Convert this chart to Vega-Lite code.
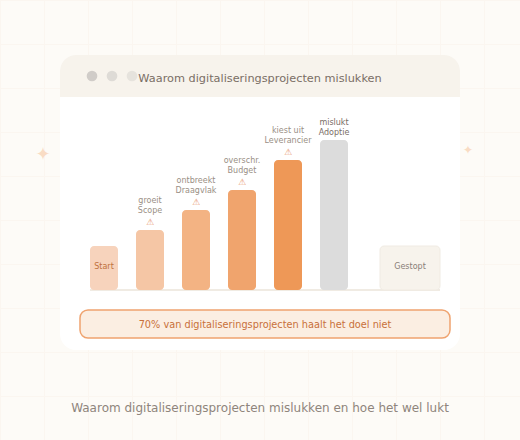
{"$schema":"https://vega.github.io/schema/vega-lite/v6.json","autosize":{"type":"fit","contains":"padding"},"width":520,"height":440,"padding":0,"background":"#fdfbf7","config":{"view":{"stroke":null},"text":{"font":"DejaVu Sans"}},
"resolve":{"scale":{"color":"independent"}},
"datasets":{"bars":[{"stap":"Start","slot":104,"value":44},{"stap":"Scope","probleem":"groeit","slot":150,"value":60},{"stap":"Draagvlak","probleem":"ontbreekt","slot":196,"value":80},{"stap":"Budget","probleem":"overschr.","slot":242,"value":100},{"stap":"Leverancier","probleem":"kiest uit","slot":288,"value":130},{"stap":"Adoptie","probleem":"mislukt","slot":334,"value":150}]},
"layer":[
{"data":{"values":[{"g":0.5},{"g":44.5},{"g":88.5},{"g":132.5},{"g":176.5},{"g":220.5},{"g":264.5},{"g":308.5},{"g":352.5},{"g":396.5},{"g":440.5},{"g":484.5}]},"mark":{"type":"rule","stroke":"#fbf6f0","strokeWidth":1,"clip":true},"encoding":{"x":{"field":"g","type":"quantitative","axis":null,"scale":{"domain":[0,520],"range":[0,520],"nice":false,"zero":false,"padding":0}}}},
{"data":{"values":[{"g":289.5},{"g":245.5},{"g":201.5},{"g":157.5},{"g":113.5},{"g":69.5},{"g":25.5},{"g":-18.5},{"g":-62.5},{"g":-106.5}]},"mark":{"type":"rule","stroke":"#fbf6f0","strokeWidth":1,"clip":true},"encoding":{"y":{"field":"g","type":"quantitative","axis":null,"scale":{"domain":[-150,290],"range":[440,0],"nice":false,"zero":false}}}},
{"data":{"values":[{"deel":"venster"}]},"mark":{"type":"rect","fill":"#ffffff","cornerRadius":16},"encoding":{"x":{"datum":60,"type":"quantitative","axis":null,"scale":{"domain":[0,520],"range":[0,520],"nice":false,"zero":false,"padding":0}},"x2":{"datum":460},"y":{"datum":235,"type":"quantitative","axis":null,"scale":{"domain":[-150,290],"range":[440,0],"nice":false,"zero":false}},"y2":{"datum":-60}}},
{"data":{"values":[{"deel":"kop"}]},"mark":{"type":"rect","fill":"#f7f3ec","cornerRadiusTopLeft":16,"cornerRadiusTopRight":16},"encoding":{"x":{"datum":60,"type":"quantitative","axis":null,"scale":{"domain":[0,520],"range":[0,520],"nice":false,"zero":false,"padding":0}},"x2":{"datum":460},"y":{"datum":235,"type":"quantitative","axis":null,"scale":{"domain":[-150,290],"range":[440,0],"nice":false,"zero":false}},"y2":{"datum":193}}},
{"data":{"values":[{"knop":"a","pos":92},{"knop":"b","pos":112},{"knop":"c","pos":132}]},"mark":{"type":"point","filled":true,"opacity":1,"size":113},"encoding":{"x":{"field":"pos","type":"quantitative","axis":null,"scale":{"domain":[0,520],"range":[0,520],"nice":false,"zero":false,"padding":0}},"y":{"datum":214,"type":"quantitative","axis":null,"scale":{"domain":[-150,290],"range":[440,0],"nice":false,"zero":false}},"color":{"field":"knop","type":"nominal","legend":null,"scale":{"domain":["a","b","c"],"range":["#d0ccc8","#dedbd6","#e6e3dd"]}}}},
{"data":{"values":[{"a":0}]},"mark":{"type":"rule","stroke":"#f0ebe3","strokeWidth":2},"encoding":{"x":{"datum":90,"type":"quantitative","axis":null,"scale":{"domain":[0,520],"range":[0,520],"nice":false,"zero":false,"padding":0}},"x2":{"datum":440},"y":{"datum":0,"type":"quantitative","axis":null,"scale":{"domain":[-150,290],"range":[440,0],"nice":false,"zero":false}}}},
{"data":{"name":"bars"},"mark":{"type":"bar","width":28,"cornerRadius":4,"orient":"vertical"},"encoding":{"x":{"field":"slot","type":"quantitative","axis":null,"scale":{"domain":[0,520],"range":[0,520],"nice":false,"zero":false,"padding":0}},"y":{"field":"value","type":"quantitative","axis":null,"scale":{"domain":[-150,290],"range":[440,0],"nice":false,"zero":false}},"y2":{"datum":0},"color":{"field":"stap","type":"nominal","legend":null,"scale":{"domain":["Start","Scope","Draagvlak","Budget","Leverancier","Adoptie"],"range":["#f7d3bc","#f5c6a5","#f3b383","#f0a46d","#ee9857","#dcdcdc"]}}}},
{"data":{"values":[{"stap":"Gestopt"}]},"mark":{"type":"rect","fill":"#f7f3ec","stroke":"#f0ebe3","strokeWidth":1,"cornerRadius":4},"encoding":{"x":{"datum":380,"type":"quantitative","axis":null,"scale":{"domain":[0,520],"range":[0,520],"nice":false,"zero":false,"padding":0}},"x2":{"datum":440},"y":{"datum":44,"type":"quantitative","axis":null,"scale":{"domain":[-150,290],"range":[440,0],"nice":false,"zero":false}},"y2":{"datum":0}}},
{"data":{"values":[{"t":"kader"}]},"mark":{"type":"rect","fill":"#fbeee2","stroke":"#efa36f","strokeWidth":1.5,"cornerRadius":8},"encoding":{"x":{"datum":80,"type":"quantitative","axis":null,"scale":{"domain":[0,520],"range":[0,520],"nice":false,"zero":false,"padding":0}},"x2":{"datum":450},"y":{"datum":-20,"type":"quantitative","axis":null,"scale":{"domain":[-150,290],"range":[440,0],"nice":false,"zero":false}},"y2":{"datum":-48}}},
{"data":{"name":"bars"},"transform":[{"filter":"datum.stap!=='Start' && datum.stap!=='Adoptie'"}],"mark":{"type":"text","text":"⚠","fontSize":9,"color":"#e8956a","baseline":"middle","dy":-8},"encoding":{"x":{"field":"slot","type":"quantitative","axis":null,"scale":{"domain":[0,520],"range":[0,520],"nice":false,"zero":false,"padding":0}},"y":{"field":"value","type":"quantitative","axis":null,"scale":{"domain":[-150,290],"range":[440,0],"nice":false,"zero":false}}}},
{"data":{"name":"bars"},"transform":[{"filter":"datum.stap!=='Start' && datum.stap!=='Adoptie'"}],"mark":{"type":"text","fontSize":8,"color":"#9a8f85","baseline":"middle","dy":-19},"encoding":{"text":{"field":"stap"},"x":{"field":"slot","type":"quantitative","axis":null,"scale":{"domain":[0,520],"range":[0,520],"nice":false,"zero":false,"padding":0}},"y":{"field":"value","type":"quantitative","axis":null,"scale":{"domain":[-150,290],"range":[440,0],"nice":false,"zero":false}}}},
{"data":{"name":"bars"},"transform":[{"filter":"datum.stap!=='Start' && datum.stap!=='Adoptie'"}],"mark":{"type":"text","fontSize":8,"color":"#9a8f85","baseline":"middle","dy":-29},"encoding":{"text":{"field":"probleem"},"x":{"field":"slot","type":"quantitative","axis":null,"scale":{"domain":[0,520],"range":[0,520],"nice":false,"zero":false,"padding":0}},"y":{"field":"value","type":"quantitative","axis":null,"scale":{"domain":[-150,290],"range":[440,0],"nice":false,"zero":false}}}},
{"data":{"name":"bars"},"transform":[{"filter":"datum.stap==='Adoptie'"}],"mark":{"type":"text","fontSize":8,"color":"#7a6e65","baseline":"middle","dy":-7},"encoding":{"text":{"field":"stap"},"x":{"field":"slot","type":"quantitative","axis":null,"scale":{"domain":[0,520],"range":[0,520],"nice":false,"zero":false,"padding":0}},"y":{"field":"value","type":"quantitative","axis":null,"scale":{"domain":[-150,290],"range":[440,0],"nice":false,"zero":false}}}},
{"data":{"name":"bars"},"transform":[{"filter":"datum.stap==='Adoptie'"}],"mark":{"type":"text","fontSize":8,"color":"#7a6e65","baseline":"middle","dy":-17},"encoding":{"text":{"field":"probleem"},"x":{"field":"slot","type":"quantitative","axis":null,"scale":{"domain":[0,520],"range":[0,520],"nice":false,"zero":false,"padding":0}},"y":{"field":"value","type":"quantitative","axis":null,"scale":{"domain":[-150,290],"range":[440,0],"nice":false,"zero":false}}}},
{"data":{"values":[{"tekst":"Start","pos":104,"h":23}]},"mark":{"type":"text","baseline":"middle","fontSize":8,"color":"#c0703a"},"encoding":{"text":{"field":"tekst"},"x":{"field":"pos","type":"quantitative","axis":null,"scale":{"domain":[0,520],"range":[0,520],"nice":false,"zero":false,"padding":0}},"y":{"field":"h","type":"quantitative","axis":null,"scale":{"domain":[-150,290],"range":[440,0],"nice":false,"zero":false}}}},
{"data":{"values":[{"tekst":"Gestopt","pos":410,"h":23}]},"mark":{"type":"text","baseline":"middle","fontSize":8,"color":"#8a8078"},"encoding":{"text":{"field":"tekst"},"x":{"field":"pos","type":"quantitative","axis":null,"scale":{"domain":[0,520],"range":[0,520],"nice":false,"zero":false,"padding":0}},"y":{"field":"h","type":"quantitative","axis":null,"scale":{"domain":[-150,290],"range":[440,0],"nice":false,"zero":false}}}},
{"data":{"values":[{"tekst":"Waarom digitaliseringsprojecten mislukken","pos":260,"h":211.5}]},"mark":{"type":"text","baseline":"middle","fontSize":11.3,"color":"#7a6e65"},"encoding":{"text":{"field":"tekst"},"x":{"field":"pos","type":"quantitative","axis":null,"scale":{"domain":[0,520],"range":[0,520],"nice":false,"zero":false,"padding":0}},"y":{"field":"h","type":"quantitative","axis":null,"scale":{"domain":[-150,290],"range":[440,0],"nice":false,"zero":false}}}},
{"data":{"values":[{"tekst":"70% van digitaliseringsprojecten haalt het doel niet","pos":265,"h":-35}]},"mark":{"type":"text","baseline":"middle","fontSize":9.75,"color":"#c8703a"},"encoding":{"text":{"field":"tekst"},"x":{"field":"pos","type":"quantitative","axis":null,"scale":{"domain":[0,520],"range":[0,520],"nice":false,"zero":false,"padding":0}},"y":{"field":"h","type":"quantitative","axis":null,"scale":{"domain":[-150,290],"range":[440,0],"nice":false,"zero":false}}}},
{"data":{"values":[{"tekst":"Waarom digitaliseringsprojecten mislukken en hoe het wel lukt","pos":260,"h":-118}]},"mark":{"type":"text","baseline":"middle","fontSize":12,"color":"#8f857c"},"encoding":{"text":{"field":"tekst"},"x":{"field":"pos","type":"quantitative","axis":null,"scale":{"domain":[0,520],"range":[0,520],"nice":false,"zero":false,"padding":0}},"y":{"field":"h","type":"quantitative","axis":null,"scale":{"domain":[-150,290],"range":[440,0],"nice":false,"zero":false}}}},
{"data":{"values":[{"tekst":"✦","pos":43,"h":135}]},"mark":{"type":"text","baseline":"middle","fontSize":18,"color":"#f9dcc4"},"encoding":{"text":{"field":"tekst"},"x":{"field":"pos","type":"quantitative","axis":null,"scale":{"domain":[0,520],"range":[0,520],"nice":false,"zero":false,"padding":0}},"y":{"field":"h","type":"quantitative","axis":null,"scale":{"domain":[-150,290],"range":[440,0],"nice":false,"zero":false}}}},
{"data":{"values":[{"tekst":"✦","pos":468,"h":140}]},"mark":{"type":"text","baseline":"middle","fontSize":12,"color":"#f9dcc4"},"encoding":{"text":{"field":"tekst"},"x":{"field":"pos","type":"quantitative","axis":null,"scale":{"domain":[0,520],"range":[0,520],"nice":false,"zero":false,"padding":0}},"y":{"field":"h","type":"quantitative","axis":null,"scale":{"domain":[-150,290],"range":[440,0],"nice":false,"zero":false}}}}
]}
